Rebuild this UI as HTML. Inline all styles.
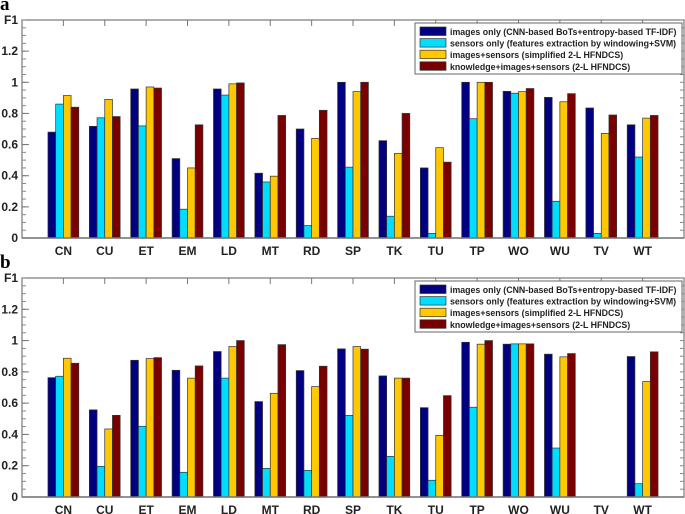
<!DOCTYPE html>
<html><head><meta charset="utf-8"><style>
body{margin:0;background:#fff;}
svg{display:block;font-family:"Liberation Sans",Arial,sans-serif;}
</style></head><body>
<svg id="chart" width="685" height="514"></svg>
<script>
const categories=["CN","CU","ET","EM","LD","MT","RD","SP","TK","TU","TP","WO","WU","TV","WT"];
const seriesNames=["images only (CNN-based BoTs+entropy-based TF-IDF)","sensors only (features extraction by windowing+SVM)","images+sensors (simplified 2-L HFNDCS)","knowledge+images+sensors (2-L HFNDCS)"];
const colors=["#000080","#00DDFF","#FFC800","#7A0000"];
const aImages=[0.68,0.717,0.957,0.51,0.957,0.416,0.70,1.0,0.625,0.45,1.0,0.942,0.903,0.835,0.727];
const aSensors=[0.86,0.772,0.72,0.185,0.918,0.36,0.08,0.455,0.14,0.03,0.766,0.93,0.236,0.03,0.52];
const aFusion=[0.915,0.89,0.97,0.45,0.99,0.397,0.64,0.94,0.543,0.58,1.0,0.94,0.875,0.672,0.77];
const aKnowledge=[0.84,0.78,0.963,0.727,0.996,0.787,0.82,1.0,0.80,0.487,1.0,0.96,0.927,0.79,0.787];
const bImages=[0.763,0.557,0.874,0.81,0.93,0.61,0.808,0.947,0.774,0.571,0.989,0.977,0.913,0,0.898];
const bSensors=[0.772,0.196,0.452,0.158,0.76,0.183,0.17,0.522,0.26,0.107,0.574,0.979,0.313,0,0.085];
const bFusion=[0.887,0.435,0.885,0.76,0.962,0.663,0.706,0.962,0.76,0.394,0.977,0.979,0.896,0,0.738];
const bKnowledge=[0.855,0.522,0.891,0.838,1.0,0.974,0.836,0.945,0.76,0.648,1.0,0.979,0.917,0,0.928];
const yTicks=[0,0.2,0.4,0.6,0.8,1,1.2];
const yTickLabels=["0","0.2","0.4","0.6","0.8","1","1.2"];

const NS="http://www.w3.org/2000/svg";
const svg=document.getElementById('chart');
function mk(tag,attrs,parent,text){const e=document.createElementNS(NS,tag);for(const k in attrs)e.setAttribute(k,attrs[k]);if(text!==undefined)e.textContent=text;(parent||svg).appendChild(e);return e;}

function panel(letter,top,zeroY,series,legendY){
  const L=22,R=684,ymax=1.4;
  const g=mk('g',{});
  
  
  const y=v=>zeroY-(v/ymax)*(zeroY-top);
  const x=i=>L+(i+1)*(R-L)/16;
  const t=mk('text',{x:0,y:top-10,'font-family':'"Liberation Serif",serif','font-weight':'bold','font-size':'19'},g,letter);
  
  mk('rect',{x:L,y:top,width:R-L,height:zeroY-top,fill:'#fff',stroke:'#777','stroke-width':1.2},g);
  for(let v=0;v<=ymax+1e-9;v+=0.05){const yy=y(v);mk('line',{x1:L,x2:L+4,y1:yy,y2:yy,stroke:'#888'},g);mk('line',{x1:R,x2:R-4,y1:yy,y2:yy,stroke:'#888'},g);}
  yTicks.forEach((v,i)=>{const yy=y(v);mk('line',{x1:L,x2:L+7,y1:yy,y2:yy,stroke:'#777'},g);
    const tl=mk('text',{x:L-4,y:yy+4,'text-anchor':'end','font-size':'12','font-weight':'bold',fill:'#222'},g,yTickLabels[i]);
    });
  const f1=mk('text',{x:L-4,y:top+4,'text-anchor':'end','font-size':'12','font-weight':'bold',fill:'#222'},g,'F1');
  
  const bw=7.7;
  categories.forEach((c,i)=>{const cx=x(i);
    mk('line',{x1:cx,x2:cx,y1:top,y2:top+6,stroke:'#777'},g);
    const cl=mk('text',{x:cx,y:zeroY+17,'text-anchor':'middle','font-size':'12','font-weight':'bold',fill:'#222'},g,c);
    
    series.forEach((s,k)=>{const v=s[i];if(v<=0)return;const bx=cx-2*bw+k*bw;
      const r=mk('rect',{x:bx,y:y(v),width:bw,height:zeroY-y(v),fill:colors[k],stroke:'#333','stroke-width':0.7},g);
      });
  });
  mk('line',{x1:L,x2:R,y1:zeroY,y2:zeroY,stroke:'#777','stroke-width':1.5},g);
  const lg=mk('g',{},g);
  
  mk('rect',{x:415,y:legendY,width:267,height:51,fill:'#fff',stroke:'#666','stroke-width':1},lg);
  seriesNames.forEach((n,k)=>{const ly=legendY+4+k*11.6;
    mk('rect',{x:420,y:ly,width:26,height:8.5,fill:colors[k],stroke:'#333','stroke-width':0.7},lg);
    const lt=mk('text',{x:450,y:ly+8,'font-size':'8.8','font-weight':'bold',fill:'#222'},lg,n);
    });
}
panel('a',20,238,[aImages,aSensors,aFusion,aKnowledge],23);
panel('b',278,497,[bImages,bSensors,bFusion,bKnowledge],281);
</script>
</body></html>
